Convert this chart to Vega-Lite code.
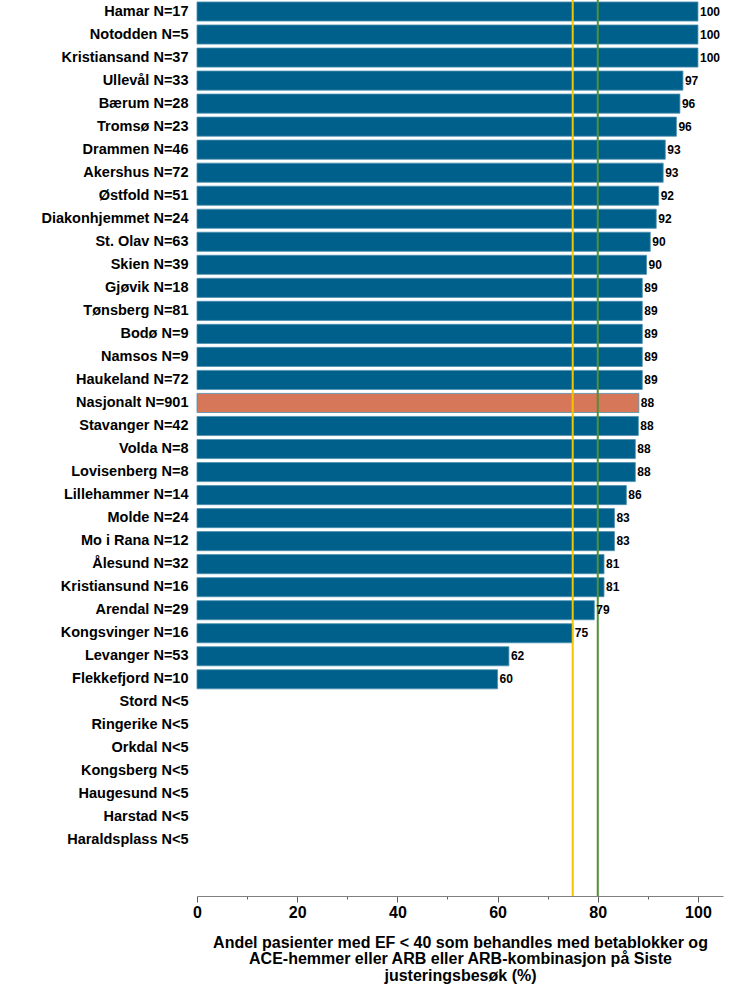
{
  "$schema": "https://vega.github.io/schema/vega-lite/v6.json",
  "autosize": {"type": "none"},
  "padding": {"left": 197, "top": 0, "right": 10, "bottom": 90},
  "width": 526,
  "height": 896,
  "background": "white",
  "config": {"view": {"stroke": null}, "font": "Liberation Sans"},
  "datasets": {
    "rows": [
      {"enhet": "Hamar N=17", "value": 100, "type": "sykehus"},
      {"enhet": "Notodden N=5", "value": 100, "type": "sykehus"},
      {"enhet": "Kristiansand N=37", "value": 100, "type": "sykehus"},
      {"enhet": "Ullevål N=33", "value": 97.0, "type": "sykehus"},
      {"enhet": "Bærum N=28", "value": 96.4, "type": "sykehus"},
      {"enhet": "Tromsø N=23", "value": 95.7, "type": "sykehus"},
      {"enhet": "Drammen N=46", "value": 93.48, "type": "sykehus"},
      {"enhet": "Akershus N=72", "value": 93.06, "type": "sykehus"},
      {"enhet": "Østfold N=51", "value": 92.16, "type": "sykehus"},
      {"enhet": "Diakonhjemmet N=24", "value": 91.67, "type": "sykehus"},
      {"enhet": "St. Olav N=63", "value": 90.48, "type": "sykehus"},
      {"enhet": "Skien N=39", "value": 89.74, "type": "sykehus"},
      {"enhet": "Gjøvik N=18", "value": 88.89, "type": "sykehus"},
      {"enhet": "Tønsberg N=81", "value": 88.89, "type": "sykehus"},
      {"enhet": "Bodø N=9", "value": 88.89, "type": "sykehus"},
      {"enhet": "Namsos N=9", "value": 88.89, "type": "sykehus"},
      {"enhet": "Haukeland N=72", "value": 88.89, "type": "sykehus"},
      {"enhet": "Nasjonalt N=901", "value": 88.2, "type": "nasjonalt"},
      {"enhet": "Stavanger N=42", "value": 88.1, "type": "sykehus"},
      {"enhet": "Volda N=8", "value": 87.5, "type": "sykehus"},
      {"enhet": "Lovisenberg N=8", "value": 87.5, "type": "sykehus"},
      {"enhet": "Lillehammer N=14", "value": 85.71, "type": "sykehus"},
      {"enhet": "Molde N=24", "value": 83.33, "type": "sykehus"},
      {"enhet": "Mo i Rana N=12", "value": 83.33, "type": "sykehus"},
      {"enhet": "Ålesund N=32", "value": 81.25, "type": "sykehus"},
      {"enhet": "Kristiansund N=16", "value": 81.25, "type": "sykehus"},
      {"enhet": "Arendal N=29", "value": 79.31, "type": "sykehus"},
      {"enhet": "Kongsvinger N=16", "value": 75.0, "type": "sykehus"},
      {"enhet": "Levanger N=53", "value": 62.26, "type": "sykehus"},
      {"enhet": "Flekkefjord N=10", "value": 60.0, "type": "sykehus"},
      {"enhet": "Stord N<5", "value": null, "type": "sykehus"},
      {"enhet": "Ringerike N<5", "value": null, "type": "sykehus"},
      {"enhet": "Orkdal N<5", "value": null, "type": "sykehus"},
      {"enhet": "Kongsberg N<5", "value": null, "type": "sykehus"},
      {"enhet": "Haugesund N<5", "value": null, "type": "sykehus"},
      {"enhet": "Harstad N<5", "value": null, "type": "sykehus"},
      {"enhet": "Haraldsplass N<5", "value": null, "type": "sykehus"}
    ],
    "refs": [
      {"niva": "moderat", "ref": 75},
      {"niva": "høy", "ref": 80}
    ]
  },
  "resolve": {"scale": {"color": "independent"}},
  "layer": [
    {
      "data": {"name": "rows"},
      "mark": {"type": "bar", "stroke": "#4d8fb0", "strokeWidth": 0.8},
      "encoding": {
        "y": {
          "field": "enhet",
          "type": "nominal",
          "sort": null,
          "scale": {
            "domain": ["Hamar N=17", "Notodden N=5", "Kristiansand N=37", "Ullevål N=33", "Bærum N=28", "Tromsø N=23", "Drammen N=46", "Akershus N=72", "Østfold N=51", "Diakonhjemmet N=24", "St. Olav N=63", "Skien N=39", "Gjøvik N=18", "Tønsberg N=81", "Bodø N=9", "Namsos N=9", "Haukeland N=72", "Nasjonalt N=901", "Stavanger N=42", "Volda N=8", "Lovisenberg N=8", "Lillehammer N=14", "Molde N=24", "Mo i Rana N=12", "Ålesund N=32", "Kristiansund N=16", "Arendal N=29", "Kongsvinger N=16", "Levanger N=53", "Flekkefjord N=10", "Stord N<5", "Ringerike N<5", "Orkdal N<5", "Kongsberg N<5", "Haugesund N<5", "Harstad N<5", "Haraldsplass N<5"],
            "range": [0, 852],
            "paddingInner": 0.17,
            "paddingOuter": 0.085
          },
          "axis": {
            "title": null,
            "domain": false,
            "ticks": false,
            "labelPadding": 9,
            "labelFont": "Liberation Sans",
            "labelFontSize": 14.5,
            "labelFontWeight": "bold",
            "labelColor": "#000000"
          }
        },
        "x": {
          "field": "value",
          "type": "quantitative",
          "scale": {"domain": [0, 105], "nice": false, "zero": true},
          "axis": {
            "title": ["Andel pasienter med EF < 40  som behandles med betablokker og", "ACE-hemmer eller ARB eller ARB-kombinasjon  på Siste", "justeringsbesøk (%)"],
            "titleFont": "Liberation Sans",
            "titleFontSize": 16,
            "titleFontWeight": "bold",
            "titleColor": "#000000",
            "titleLineHeight": 16.5,
            "titlePadding": 14,
            "values": [0, 5, 10, 15, 20, 25, 30, 35, 40, 45, 50, 55, 60, 65, 70, 75, 80, 85, 90, 95, 100, 105],
            "labelExpr": "datum.value % 20 === 0 ? datum.label : ''",
            "labelFont": "Liberation Sans",
            "labelFontSize": 16,
            "labelFontWeight": "bold",
            "labelColor": "#000000",
            "labelPadding": 2,
            "labelFlush": false,
            "grid": false,
            "domainColor": "#808080",
            "tickColor": "#606060",
            "tickSize": {"condition": {"test": "datum.value % 20 === 0", "value": 6}, "value": 3}
          }
        },
        "color": {
          "field": "type",
          "type": "nominal",
          "scale": {"domain": ["sykehus", "nasjonalt"], "range": ["#00608c", "#d7775a"]},
          "legend": null
        }
      }
    },
    {
      "data": {"name": "refs"},
      "transform": [{"filter": "datum.niva === 'moderat'"}],
      "mark": {"type": "rule", "strokeWidth": 2, "color": "#f2c500"},
      "encoding": {
        "x": {"field": "ref", "type": "quantitative"}
      }
    },
    {
      "data": {"name": "refs"},
      "transform": [{"filter": "datum.niva === 'høy'"}],
      "mark": {"type": "rule", "strokeWidth": 2, "color": "#4f9038"},
      "encoding": {
        "x": {"field": "ref", "type": "quantitative"}
      }
    },
    {
      "data": {"name": "rows"},
      "transform": [{"filter": "isValid(datum.value)"}],
      "mark": {"type": "text", "align": "left", "baseline": "middle", "dx": 2, "font": "Liberation Sans", "fontSize": 12, "fontWeight": "bold", "color": "#000000"},
      "encoding": {
        "y": {"field": "enhet", "type": "nominal", "sort": null},
        "x": {"field": "value", "type": "quantitative"},
        "text": {"field": "value", "type": "quantitative", "format": ".0f"}
      }
    }
  ]
}
